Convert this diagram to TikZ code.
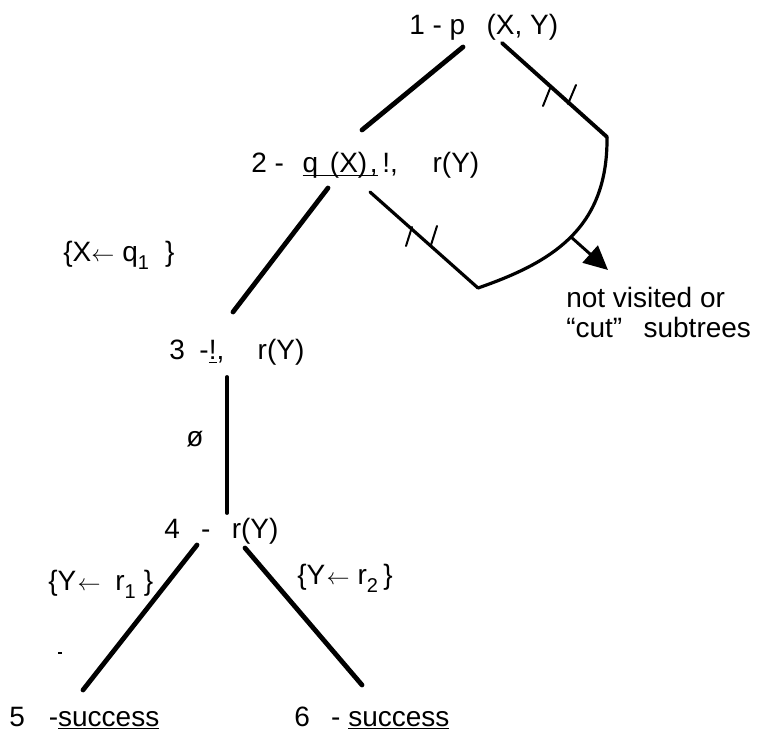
\documentclass[tikz,border=0pt]{standalone}
\usepackage{fontspec}
\setmainfont{Liberation Sans}
\usetikzlibrary{arrows.meta}
\newcommand{\larr}{{\fontsize{18}{18}\selectfont$\leftarrow$}}
\newcommand{\subsc}[1]{\raisebox{-6pt}{\fontsize{15}{15}\selectfont #1}}
\newcommand{\myul}[1]{\underline{\smash{#1}}}
\begin{document}
\begin{tikzpicture}[x=0.75pt,y=-0.75pt,
  lbl/.style={inner sep=0pt, anchor=base west, font=\fontsize{21}{25}\selectfont},
  edgeA/.style={line width=3.6pt, line cap=round},
  edgeB/.style={line width=2.9pt, line cap=round, line join=round},
  edgeC/.style={line width=2.4pt, line cap=round, line join=round},
  tickmark/.style={line width=1.5pt, line cap=round},
  pointer/.style={line width=2.2pt, -{Triangle[length=18pt,width=17pt]}}]
\useasboundingbox (0,0) rectangle (767,737);

% labels
\node[lbl] (n1) at (409,35) {1 - p\hspace{16pt}(X, Y)};
\node[lbl] (n2) at (251,173) {2 -\hspace{14pt}\myul{q\hspace{3pt} (X)\hspace{2pt},}\,!,\hspace{26pt}r(Y)};
\node[lbl] (n3) at (169,360) {3\hspace{11pt}-\myul{!},\hspace{25pt}r(Y)};
\node[lbl] (n4) at (164,538) {4\hspace{16pt}-\hspace{16pt}r(Y)};
\node[lbl] (n5) at (9,726) {5\hspace{18pt}-\myul{success}};
\node[lbl] (n6) at (294,726) {6\hspace{16pt}- \myul{success}};
\node[lbl] (sx) at (63,262) {\{X\larr\hspace{6pt}q\subsc{1}\hspace{12pt}\}};
\node[lbl] (sy1) at (48,590) {\{Y\hspace{1pt}\larr\hspace{11pt}r\subsc{1}\hspace{6pt}\}};
\node[lbl] (sy2) at (297,584) {\{Y\hspace{1pt}\larr\hspace{6pt}r\subsc{2}\hspace{4pt}\}};
\node[lbl] (phi) at (186,446) {ø};
\node[lbl] (nv1) at (566,308) {not visited or};
\node[lbl] (nv2) at (566,338) {“cut”\hspace{16pt}subtrees};

% connector end points
\coordinate (a1) at (463,47);
\coordinate (b2) at (362,130);
\coordinate (a1r) at (502,43);
\coordinate (k1) at (607,137);
\coordinate (k2) at (478,288);
\coordinate (a2r) at (370,192);
\coordinate (a2l) at (328,188);
\coordinate (b3) at (233,312);
\coordinate (a3) at (227,377);
\coordinate (b4) at (227,513);
\coordinate (a4l) at (197,545);
\coordinate (b5) at (83,690);
\coordinate (a4r) at (245,548);
\coordinate (b6) at (362,685);
\coordinate (arrS) at (571,237);
\coordinate (arrT) at (608,270);

% tree edges
\draw[edgeA] (a1) -- (b2);
\draw[edgeA] (a2l) -- (b3);
\draw[edgeB] (a3) -- (b4);
\draw[edgeA] (a4l) -- (b5);
\draw[edgeA] (a4r) -- (b6);

% cut subtrees
\draw[edgeB] (a1r) -- (k1);
\draw[edgeC] (k1) .. controls (608,228) and (553,262) .. (k2);
\draw[edgeC] (k2) -- (a2r);

% ticks
\draw[tickmark] (543,106) -- (551,86);
\draw[tickmark] (568,104) -- (576,85);
\draw[tickmark] (406,246) -- (412,227);
\draw[tickmark] (431,245) -- (437,226);

% pointer
\draw[pointer] (arrS) -- (arrT);

% speck
\draw[line width=1.2pt] (58,653) -- (62,653);
\end{tikzpicture}
\end{document}
